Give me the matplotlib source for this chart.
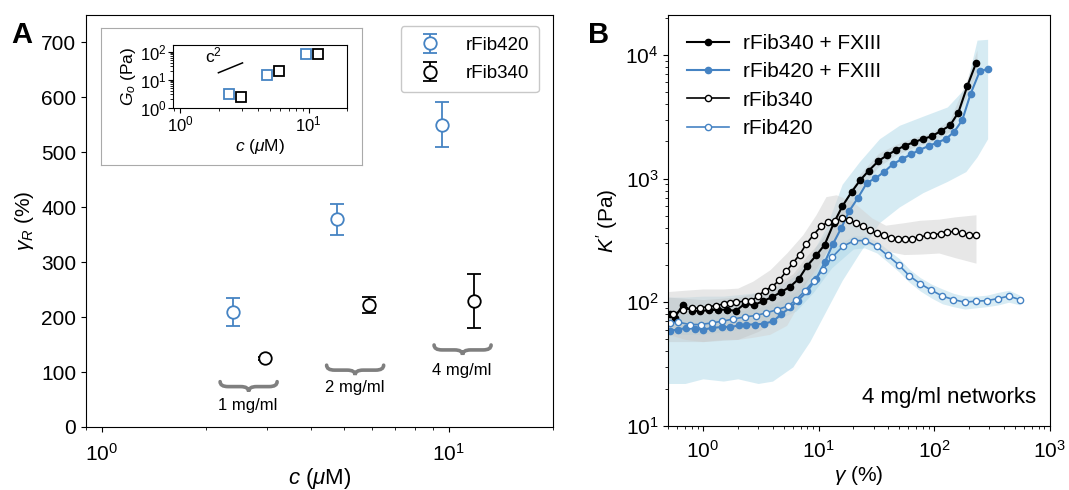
import numpy as np
import matplotlib
matplotlib.use("Agg")
import matplotlib.pyplot as plt
from matplotlib.path import Path
from matplotlib.patches import PathPatch

plt.rcParams['font.family'] = ['Liberation Sans', 'DejaVu Sans']
plt.rcParams['mathtext.fontset'] = 'custom'
plt.rcParams['mathtext.rm'] = 'Liberation Sans'
plt.rcParams['mathtext.it'] = 'Liberation Sans:italic'
plt.rcParams['mathtext.bf'] = 'Liberation Sans:bold'

BLUE = '#4583c3'

# panel A: rupture strain vs concentration
c420 = [2.39, 4.77, 9.55]
g420 = [210, 378, 550]
g420_lo = [26, 28, 41]
g420_hi = [25, 28, 41]
c340 = [2.96, 5.88, 11.8]
g340 = [125, 222, 230]
g340_lo = [3, 14, 49]
g340_hi = [3, 15, 49]

# inset: G0 vs concentration
G420 = [3.0, 15, 85]
G340 = [2.5, 20, 85]
G340_err_lo = [0.4, 3, 25]
G340_err_hi = [0.4, 3, 35]

# panel B: K' vs strain
gam_f340 = [0.52, 0.57, 0.67, 0.80, 0.94, 1.13, 1.36, 1.62, 1.92, 2.30, 2.77, 3.31, 3.96,
            4.77, 5.70, 6.77, 7.98, 9.55, 11.3, 13.6, 16.1, 19.4, 23.0, 27.2, 33.0, 39.4,
            46.7, 56.0, 67.0, 80.0, 95.5, 114, 137, 162, 194, 230]
K_f340 = [80, 75, 95, 85, 85, 86, 87, 87, 85, 97, 95, 102, 110, 121, 134, 155, 197, 239, 292,
          440, 600, 785, 975, 1160, 1390, 1550, 1700, 1850, 1970, 2095, 2200, 2425, 2690, 3425,
          5640, 8560]

gam_f420 = [0.52, 0.61, 0.72, 0.85, 1.0, 1.21, 1.45, 1.73, 2.06, 2.38, 2.81, 3.36, 4.04, 4.77,
            5.70, 6.63, 8.0, 9.56, 11.3, 13.3, 15.7, 18.5, 21.8, 26.3, 31.0, 37.1, 43.7, 52.7,
            63.1, 74.4, 89.4, 105, 126, 149, 175, 207, 248, 292]
K_f420 = [59, 60, 62, 61, 60, 62, 63, 63, 65, 66, 66, 67, 70, 80, 91, 103, 123, 155, 210, 295,
          397, 550, 693, 929, 1004, 1138, 1303, 1441, 1570, 1703, 1835, 1951, 2090, 2393, 2972,
          4870, 7380, 7740]

gam_340 = [0.555, 0.676, 0.80, 0.94, 1.11, 1.31, 1.52, 1.71, 1.95, 2.30, 2.63, 3.0, 3.42, 3.99,
           4.55, 5.27, 6.0, 6.86, 7.83, 9.06, 10.5, 12.0, 13.9, 16.0, 18.3, 21.1, 24.4, 27.9,
           31.8, 37.1, 42.4, 49.0, 56.3, 64.2, 74.3, 85.9, 98.6, 114, 130, 151, 173, 200, 232]
K_340 = [80, 87, 89, 90, 92, 94, 97, 99, 100, 102, 103, 112, 124, 134, 150, 178, 207, 243, 295,
         352, 410, 444, 456, 476, 464, 436, 410, 381, 362, 347, 330, 326, 326, 326, 334, 347,
         352, 358, 369, 374, 362, 352, 352]

gam_420 = [0.52, 0.61, 0.77, 0.955, 1.19, 1.45, 1.82, 2.30, 2.86, 3.54, 4.37, 5.44, 6.42, 7.57,
           9.06, 10.9, 13.1, 16.2, 20.4, 25.4, 31.8, 39.6, 49.2, 60.9, 75.7, 94.8, 118, 147,
           184, 229, 285, 356, 443, 551]
K_420 = [68, 69, 66, 66, 68, 70, 73, 76, 78, 82, 87, 93, 105, 123, 148, 183, 231, 283, 315, 315,
         283, 239, 201, 164, 141, 125, 112, 105, 100, 102, 103, 107, 112, 105]

# shaded spreads
band340_g = [0.5, 0.7, 1, 1.5, 2, 2.7, 3.8, 5.3, 7.3, 9.5, 11.6, 14.2, 19.8, 29, 38, 55, 75,
             110, 150, 230]
band340_lo = [55, 50, 48, 50, 50, 52, 55, 65, 110, 170, 250, 290, 300, 290, 260, 243, 245,
              250, 230, 207]
band340_hi = [122, 125, 128, 128, 130, 148, 183, 250, 351, 510, 715, 740, 650, 480, 420, 440,
              460, 470, 490, 510]

bandf340_g = [0.5, 1, 2, 3, 4, 6, 8, 10, 13, 17, 23, 33, 47, 67, 95, 137, 194, 235]
bandf340_lo = [48, 48, 50, 58, 68, 95, 150, 200, 300, 480, 820, 1250, 1550, 1800, 2000, 2400,
               4800, 7200]
bandf340_hi = [110, 105, 110, 120, 135, 170, 240, 300, 420, 680, 1100, 1600, 1900, 2150, 2350,
               3000, 6500, 11000]

bandf420_g = [0.5, 0.7, 1, 1.5, 2, 3, 4, 6, 8.4, 11.6, 16, 22.6, 33.6, 50, 80, 130, 188, 235,
              290]
bandf420_lo = [22, 22, 24, 23, 24, 22, 23, 30, 48, 85, 150, 250, 440, 590, 770, 950, 1140,
               1500, 2100]
bandf420_hi = [110, 110, 112, 112, 115, 120, 128, 160, 230, 400, 900, 1371, 2100, 2700, 3200,
               3800, 5500, 13200, 13400]

band420_g = [0.5, 1, 2, 3, 4.4, 6.4, 9, 13, 20, 25, 32, 40, 50, 61, 76, 95, 118, 147, 184, 229,
             285, 356, 443, 551]
band420_lo = [55, 55, 60, 66, 72, 85, 120, 190, 270, 275, 250, 210, 175, 145, 123, 108, 97, 92,
              88, 90, 92, 95, 100, 95]
band420_hi = [82, 80, 84, 90, 100, 122, 175, 270, 345, 345, 310, 265, 225, 185, 158, 140, 128,
              118, 112, 112, 114, 120, 125, 114]


def brace(ax, x0, x1, y, h, r):
    xm = (x0 + x1) / 2
    verts = [(x0, y), (x0, y - h / 2), (x0 + r, y - h / 2),
             (xm - r, y - h / 2), (xm, y - h / 2), (xm, y - h),
             (xm, y - h / 2), (xm + r, y - h / 2),
             (x1 - r, y - h / 2), (x1, y - h / 2), (x1, y)]
    codes = [Path.MOVETO, Path.CURVE3, Path.CURVE3, Path.LINETO, Path.CURVE3, Path.CURVE3,
             Path.CURVE3, Path.CURVE3, Path.LINETO, Path.CURVE3, Path.CURVE3]
    ax.add_patch(PathPatch(Path(verts, codes), transform=ax.transAxes, fill=False,
                           edgecolor='#7f7f7f', lw=2.6, capstyle='round', clip_on=False))


fig = plt.figure(figsize=(10.69, 4.9), dpi=100)

# ---------------- panel A ----------------
ax = fig.add_axes([0.0805, 0.1286, 0.437, 0.841])
ax.errorbar(c420, g420, yerr=[g420_lo, g420_hi], fmt='o', mfc='white', mec=BLUE, ecolor=BLUE,
            ms=9, mew=1.3, capsize=5, elinewidth=1.3, capthick=1.3, label='rFib420')
ax.errorbar(c340, g340, yerr=[g340_lo, g340_hi], fmt='o', mfc='white', mec='black',
            ecolor='black', ms=9, mew=1.3, capsize=5, elinewidth=1.3, capthick=1.3,
            label='rFib340')
ax.set_xscale('log')
ax.set_xlim(0.9, 20)
ax.set_ylim(0, 750)
ax.set_yticks(range(0, 701, 100))
ax.tick_params(labelsize=15)
ax.tick_params(axis='x', which='major', pad=8)
ax.set_xlabel(r'$c$ ($\mu$M)', fontsize=16, labelpad=1)
ax.set_ylabel(r'$\gamma_R$ (%)', fontsize=15)
leg = ax.legend(loc='upper right', fontsize=13.5, frameon=True, borderpad=0.55,
                handletextpad=0.9, labelspacing=0.6, bbox_to_anchor=(0.99, 0.995))
leg.get_frame().set_edgecolor('#bbbbbb')

brace(ax, 0.287, 0.409, 0.110, 0.024, 0.017)
brace(ax, 0.515, 0.637, 0.150, 0.024, 0.017)
brace(ax, 0.745, 0.867, 0.199, 0.024, 0.017)
ax.text(0.347, 0.051, '1 mg/ml', transform=ax.transAxes, ha='center', va='center', fontsize=12)
ax.text(0.576, 0.095, '2 mg/ml', transform=ax.transAxes, ha='center', va='center', fontsize=12)
ax.text(0.805, 0.138, '4 mg/ml', transform=ax.transAxes, ha='center', va='center', fontsize=12)

# inset box
box = fig.add_axes([0.0945, 0.663, 0.244, 0.28])
box.set_xticks([])
box.set_yticks([])
for s in box.spines.values():
    s.set_edgecolor('#aaaaaa')

ins = fig.add_axes([0.162, 0.780, 0.163, 0.129])
ins.plot(c420, G420, 's', mfc='white', mec=BLUE, ms=6.5, mew=1.3)
ins.errorbar(c340, G340, yerr=[G340_err_lo, G340_err_hi], fmt='s', mfc='white', mec='black',
             ecolor='black', ms=6.5, mew=1.3, capsize=3.5, elinewidth=1.1)
ins.set_xscale('log')
ins.set_yscale('log')
ins.set_xlim(0.88, 20)
ins.set_ylim(1, 180)
ins.set_yticks([1, 10, 100])
ins.tick_params(labelsize=12, pad=1.5)
ins.tick_params(which='minor', length=2)
ins.set_xlabel(r'$c$ ($\mu$M)', fontsize=12.5, labelpad=2)
ins.set_ylabel(r'$G_o$ (Pa)', fontsize=12.5, labelpad=1)
ins.plot([1.98, 3.05], [17.8, 40], color='black', lw=1.1)
ins.text(1.8, 32, r'c$^2$', fontsize=12.5, ha='center', va='bottom')

fig.text(0.011, 0.912, 'A', fontsize=21, fontweight='bold')

# ---------------- panel B ----------------
bx = fig.add_axes([0.625, 0.131, 0.357, 0.838])
bx.fill_between(bandf420_g, bandf420_lo, bandf420_hi, color='#cce7f1', alpha=0.8, lw=0)
bx.fill_between(band420_g, band420_lo, band420_hi, color='#9fd0e4', alpha=0.4, lw=0)
bx.fill_between(band340_g, band340_lo, band340_hi, color='#d4d4d4', alpha=0.55, lw=0)
bx.fill_between(bandf340_g, bandf340_lo, bandf340_hi, color='#b8b8b8', alpha=0.3, lw=0)

bx.plot(gam_f340, K_f340, '-o', color='black', ms=4.5, lw=1.5, label='rFib340 + FXIII')
bx.plot(gam_f420, K_f420, '-o', color=BLUE, ms=4.5, lw=1.5, label='rFib420 + FXIII')
bx.plot(gam_340, K_340, '-o', color='black', mfc='white', ms=4.5, mew=1, lw=1.2,
        label='rFib340')
bx.plot(gam_420, K_420, '-o', color=BLUE, mfc='white', ms=4.5, mew=1, lw=1.2,
        label='rFib420')

bx.set_xscale('log')
bx.set_yscale('log')
bx.set_xlim(0.5, 1000)
bx.set_ylim(10, 21000)
bx.tick_params(labelsize=15)
bx.tick_params(axis='x', which='major', pad=7)
bx.set_xlabel(r'$\gamma$ (%)', fontsize=15, labelpad=1)
bx.set_ylabel(r"$K'$ (Pa)", fontsize=15)
bx.legend(loc='upper left', fontsize=15, frameon=False, handlelength=2.0,
          handletextpad=0.7, borderaxespad=0.5, labelspacing=0.45)
bx.text(0.965, 0.07, '4 mg/ml networks', transform=bx.transAxes, ha='right', va='center',
        fontsize=16)

fig.text(0.550, 0.912, 'B', fontsize=21, fontweight='bold')

fig.savefig('out.png', dpi=100)
